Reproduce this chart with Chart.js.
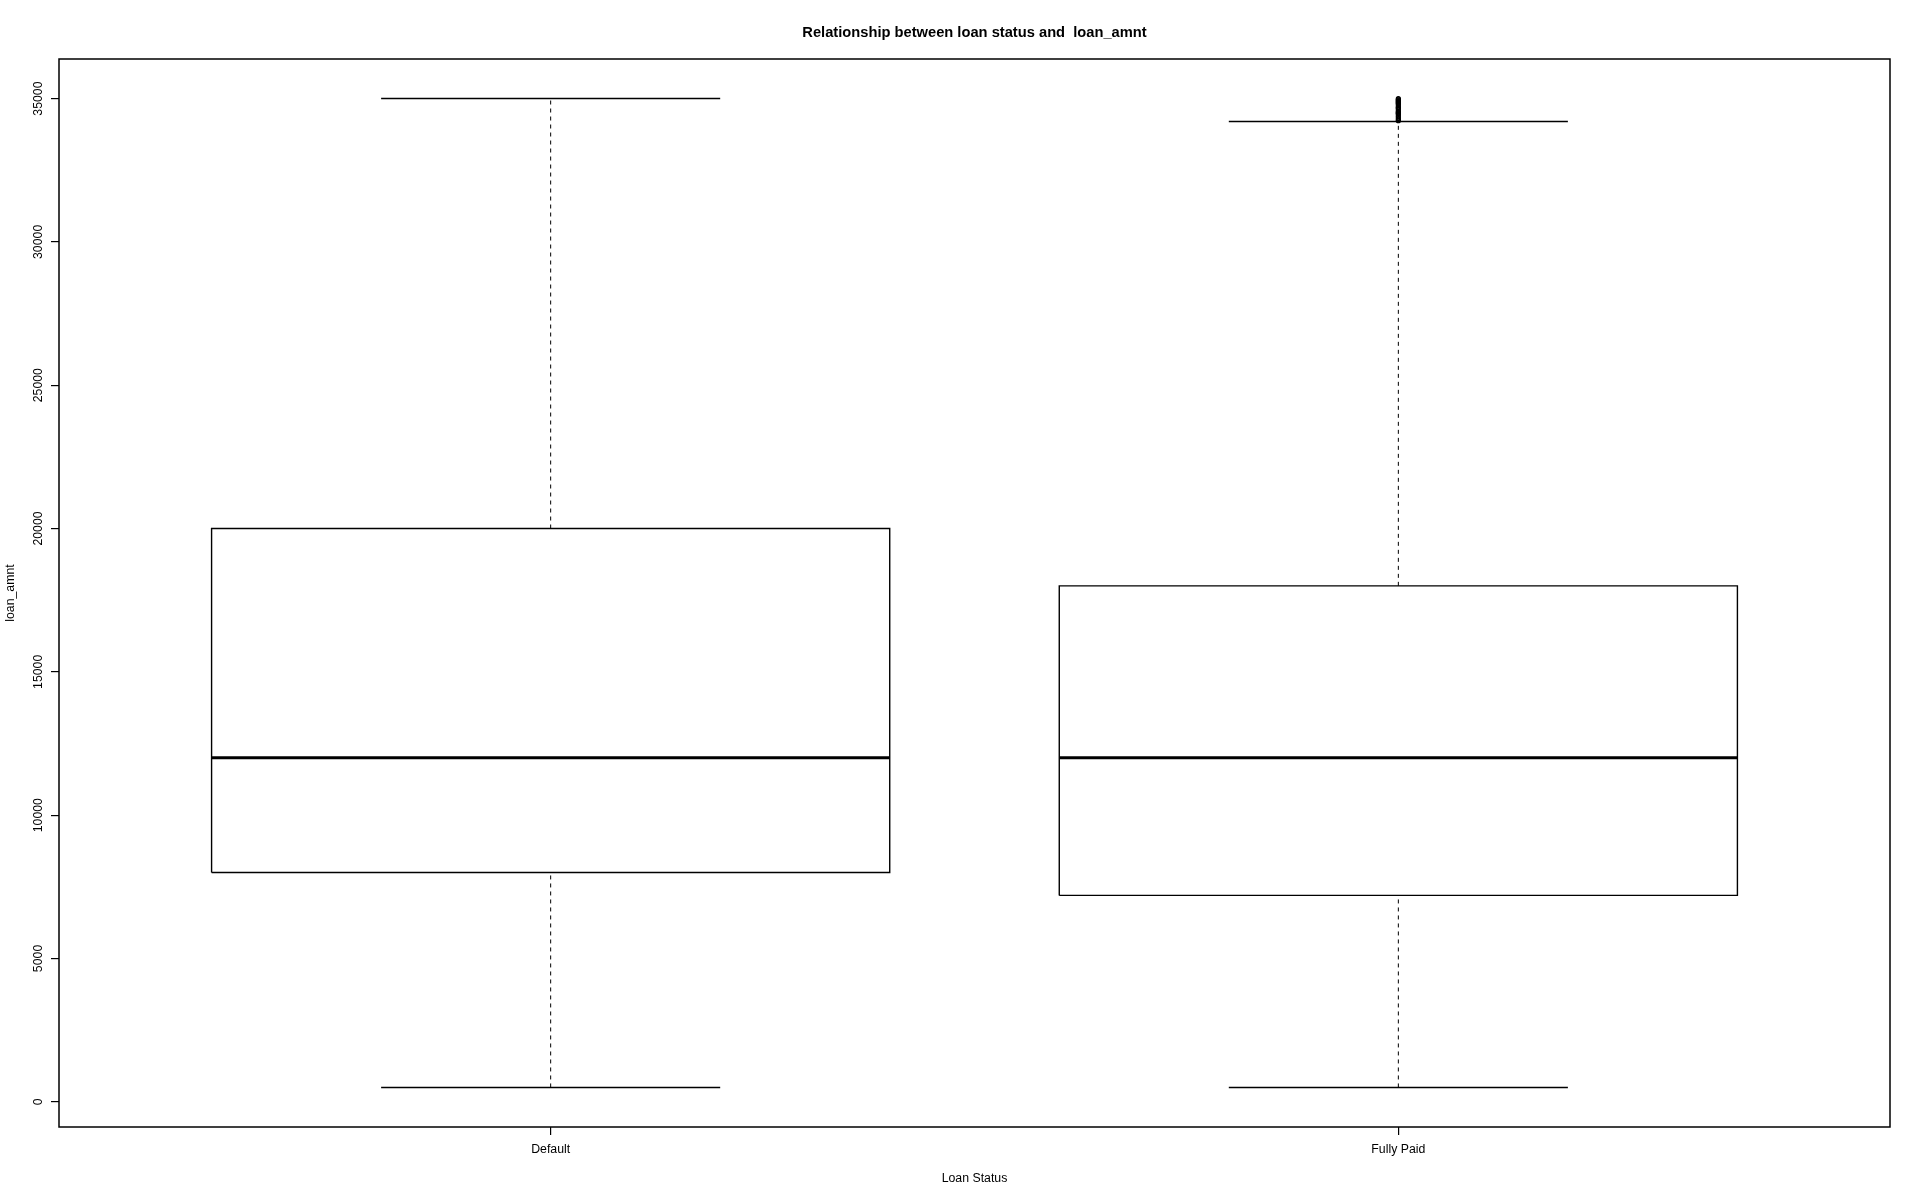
<!DOCTYPE html>
<html>
<head>
<meta charset="utf-8">
<script src="https://cdn.jsdelivr.net/npm/chart.js@4/dist/chart.umd.min.js"></script>
<style>
html,body{margin:0;padding:0;background:#ffffff;}
#wrap{width:1920px;height:1200px;}
</style>
</head>
<body>
<div id="wrap"><canvas id="c" width="1920" height="1200"></canvas></div>
<script>
// ---- data ----
const categories = ['Default', 'Fully Paid'];
const whiskerLow = [500, 500];
const q1Values = [8000, 7200];
const medianValues = [12000, 12000];
const q3Values = [20000, 18000];
const whiskerHigh = [35000, 34200];
const outliersDefault = [];
const outliersFullyPaid = [34225, 34250, 34300, 34350, 34400, 34450, 34475, 34500, 34525, 34550,
  34600, 34650, 34675, 34700, 34750, 34800, 34825, 34850, 34875, 34900, 34925, 34950, 34975, 35000];
const yTickValues = [0, 5000, 10000, 15000, 20000, 25000, 30000, 35000];
const chartTitle = 'Relationship between loan status and  loan_amnt';
const xAxisTitle = 'Loan Status';
const yAxisTitle = 'loan_amnt';

// ---- geometry helpers (R boxplot conventions) ----
const BOX_HALF = 0.4, CAP_HALF = 0.2;
const allOutliers = [outliersDefault, outliersFullyPaid];
const dataMin = Math.min(...whiskerLow, ...allOutliers.flat());
const dataMax = Math.max(...whiskerHigh, ...allOutliers.flat());
const ext = (dataMax - dataMin) * 0.04;
const xExt = (categories.length) * 0.04;

const FONT = '"Liberation Sans", Arial, sans-serif';
const black = '#000000';

function line(points, width, dash) {
  return {
    data: points, showLine: true, borderColor: black, borderWidth: width,
    borderDash: dash || [], pointRadius: 0, pointHoverRadius: 0, fill: false, tension: 0
  };
}

const datasets = [];
categories.forEach((cat, i) => {
  const c = i + 1;
  // whiskers (dashed)
  datasets.push(line([{x: c, y: q3Values[i]}, {x: c, y: whiskerHigh[i]}], 1, [4, 4]));
  datasets.push(line([{x: c, y: whiskerLow[i]}, {x: c, y: q1Values[i]}], 1, [4, 4]));
  // caps
  datasets.push(line([{x: c - CAP_HALF, y: whiskerHigh[i]}, {x: c + CAP_HALF, y: whiskerHigh[i]}], 1.4));
  datasets.push(line([{x: c - CAP_HALF, y: whiskerLow[i]}, {x: c + CAP_HALF, y: whiskerLow[i]}], 1.4));
  // box
  datasets.push(line([
    {x: c - BOX_HALF, y: q1Values[i]}, {x: c + BOX_HALF, y: q1Values[i]},
    {x: c + BOX_HALF, y: q3Values[i]}, {x: c - BOX_HALF, y: q3Values[i]},
    {x: c - BOX_HALF, y: q1Values[i]}
  ], 1.4));
  // median
  datasets.push(line([{x: c - BOX_HALF, y: medianValues[i]}, {x: c + BOX_HALF, y: medianValues[i]}], 3));
  // outliers
  if (allOutliers[i].length) {
    datasets.push({
      data: allOutliers[i].map(v => ({x: c, y: v})), showLine: false,
      pointStyle: 'circle', pointRadius: 2, pointHoverRadius: 2,
      pointBorderColor: black, pointBackgroundColor: 'rgba(0,0,0,0)', pointBorderWidth: 1.2
    });
  }
});

const frameAndTitle = {
  id: 'frameAndTitle',
  afterDraw(chart) {
    const {ctx, chartArea: a} = chart;
    ctx.save();
    ctx.strokeStyle = black;
    ctx.lineWidth = 1.5;
    ctx.strokeRect(a.left, a.top, a.right - a.left, a.bottom - a.top);
    ctx.fillStyle = black;
    ctx.font = 'bold 14.7px ' + FONT;
    ctx.textAlign = 'center';
    ctx.textBaseline = 'middle';
    ctx.fillText(chartTitle, (a.left + a.right) / 2, 32.5);
    ctx.restore();
  }
};

new Chart(document.getElementById('c'), {
  type: 'scatter',
  data: {datasets},
  plugins: [frameAndTitle],
  options: {
    responsive: false,
    animation: false,
    devicePixelRatio: 1,
    layout: {padding: {top: 59, right: 30, bottom: 0, left: 0}},
    plugins: {legend: {display: false}, tooltip: {enabled: false}, title: {display: false}},
    scales: {
      x: {
        type: 'linear',
        min: 1 - 0.5 - xExt, max: categories.length + 0.5 + xExt,
        afterBuildTicks: s => { s.ticks = categories.map((_, i) => ({value: i + 1})); },
        afterFit: s => { s.height = 73; },
        ticks: {
          autoSkip: false, maxRotation: 0, minRotation: 0, padding: 7.5, color: black,
          font: {family: FONT, size: 12.3},
          callback: v => categories[Math.round(v) - 1]
        },
        grid: {drawOnChartArea: false, drawTicks: true, tickLength: 8, color: black, lineWidth: 1.2},
        border: {display: false},
        title: {display: true, text: xAxisTitle, color: black, font: {family: FONT, size: 12.3}, padding: {top: 0, bottom: 14.5}}
      },
      y: {
        type: 'linear',
        min: dataMin - ext, max: dataMax + ext,
        afterBuildTicks: s => { s.ticks = yTickValues.map(v => ({value: v})); },
        afterFit: s => { s.width = 59; },
        ticks: {
          minRotation: 90, maxRotation: 90, crossAlign: 'center', padding: -5, color: black,
          font: {family: FONT, size: 12.3},
          callback: v => String(v)
        },
        grid: {drawOnChartArea: false, drawTicks: true, tickLength: 8, color: black, lineWidth: 1.2},
        border: {display: false},
        title: {display: true, text: yAxisTitle, color: black, font: {family: FONT, size: 12.3}, padding: {top: 3, bottom: 0}}
      }
    }
  }
});
</script>
</body>
</html>
